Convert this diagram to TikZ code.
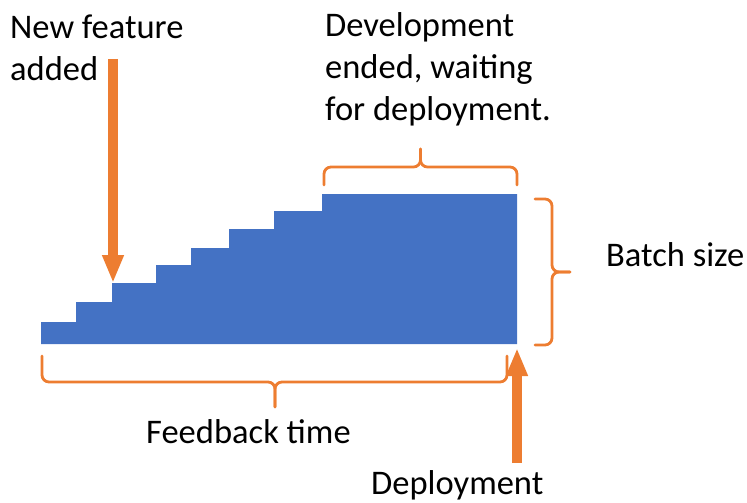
\documentclass[tikz,border=0pt]{standalone}
\usepackage{fontspec}
\setmainfont{Carlito}
\usetikzlibrary{arrows.meta}

\definecolor{barblue}{HTML}{4472C4}
\definecolor{markorange}{HTML}{ED7D31}

\tikzset{
  label/.style={anchor=base west,inner sep=0pt,align=left,
    font=\fontsize{34.5}{42}\selectfont},
  bigarrow/.style={markorange,line width=10pt,
    -{Triangle[length=28pt,width=20pt]}},
  bracket/.style={markorange,line width=2.8pt,line cap=round,
    rounded corners=7pt}
}

\begin{document}
\begin{tikzpicture}[x=1pt,y=-1pt]
   \useasboundingbox (0,0) rectangle (747,503);

   % the staircase of work waiting in the batch
   \fill[barblue] (41,344) -- (41,322) -- (76,322) -- (76,302)
     -- (112,302) -- (112,283) -- (156,283) -- (156,265)
     -- (191,265) -- (191,248) -- (229,248) -- (229,229)
     -- (274,229) -- (274,211) -- (322,211) -- (322,194)
     -- (517,194) -- (517,344) -- cycle;
   \coordinate (feat) at (113,283);
   \coordinate (deploy) at (517,348);

   \node[label] (newfeat) at (10,81) {New feature\\added};
   \node[label] (devend) at (325,120) {Development\\ended, waiting\\for deployment.};
   \node[label] (batch) at (606,266) {Batch size};
   \node[label] (feedback) at (146,443) {Feedback time};
   \node[label] (deployment) at (371,494) {Deployment};

   \coordinate (featstart) at (113,59);
   \coordinate (deploystart) at (517,463);
   \draw[bigarrow] (featstart) -- (feat);
   \draw[bigarrow] (deploystart) -- (deploy);

   % braces
   \draw[bracket] (324,185) -- (324,167) -- (420.5,167) -- (420.5,149);
   \draw[bracket] (517,185) -- (517,167) -- (420.5,167) -- (420.5,149);
   \draw[bracket] (535,199) -- (552,199) -- (552,272) -- (570,272);
   \draw[bracket] (535,345) -- (552,345) -- (552,272) -- (570,272);
   \draw[bracket] (42,356) -- (42,382) -- (275,382) -- (275,407);
   \draw[bracket] (507,356) -- (507,382) -- (275,382) -- (275,407);
\end{tikzpicture}
\end{document}
